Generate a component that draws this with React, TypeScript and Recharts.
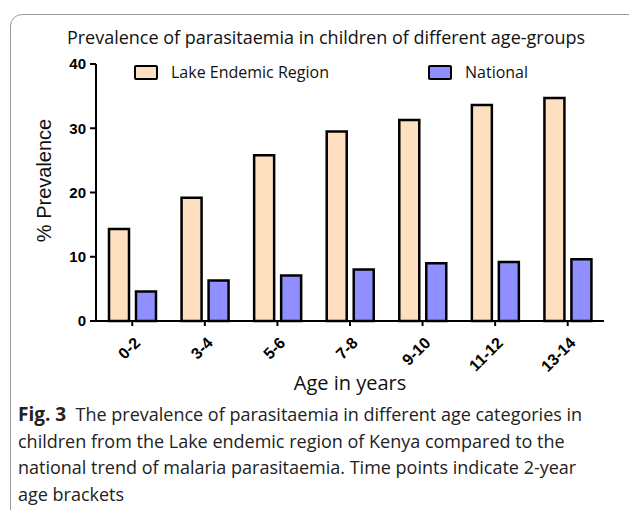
import React from 'react';
import { BarChart, Bar, XAxis, YAxis, Label } from 'recharts';

const AGE_GROUPS = ['0-2', '3-4', '5-6', '7-8', '9-10', '11-12', '13-14'];
const LAKE_ENDEMIC = [14.3, 19.2, 25.8, 29.5, 31.3, 33.6, 34.7];
const NATIONAL = [4.6, 6.3, 7.1, 8.0, 9.0, 9.2, 9.6];
const Y_TICKS = [0, 10, 20, 30, 40];

const SERIES = [
  { key: 'lake', label: 'Lake Endemic Region', fill: '#FEDFC0', legendLeft: 134 },
  { key: 'national', label: 'National', fill: '#8F8FFF', legendLeft: 428 },
];

const data = AGE_GROUPS.map((age, i) => ({
  age,
  lake: LAKE_ENDEMIC[i],
  national: NATIONAL[i],
}));

const CHART_FONT = '"Open Sans", sans-serif';
const ARIAL = '"Liberation Sans", Arial, sans-serif';

function AgeTick({ x, y, payload }: any) {
  const ax = x + 5;
  const ay = y + 12;
  return (
    <text
      x={ax}
      y={ay}
      textAnchor="end"
      transform={`rotate(-45 ${ax} ${ay})`}
      fontFamily={ARIAL}
      fontWeight="bold"
      fontSize={16}
      fill="#000"
      dominantBaseline="central"
    >
      {payload.value}
    </text>
  );
}

export default function App() {
  return (
    <div
      style={{
        position: 'fixed',
        left: 0,
        top: 0,
        width: 629,
        height: 510,
        background: '#fff',
        overflow: 'hidden',
      }}
    >
      <div
        style={{
          position: 'absolute',
          left: 10,
          top: 14,
          width: 700,
          height: 540,
          border: '1px solid #9a9a9a',
          borderRadius: 12,
        }}
      />
      <div
        style={{
          position: 'absolute',
          left: 0,
          top: 25,
          width: 652,
          textAlign: 'center',
          fontFamily: CHART_FONT,
          fontSize: 18,
          color: '#111',
          whiteSpace: 'nowrap',
        }}
      >
        Prevalence of parasitaemia in children of different age-groups
      </div>
      <div style={{ position: 'absolute', left: 0, top: 0 }}>
        <BarChart
          width={629}
          height={395}
          data={data}
          margin={{ top: 64, right: 25, bottom: 0, left: 36 }}
          barSize={20}
          barGap={7}
        >
          <XAxis
            dataKey="age"
            height={74}
            stroke="#000"
            strokeWidth={2}
            tickSize={5}
            tick={<AgeTick />}
            interval={0}
          >
            <Label
              value="Age in years"
              position="insideBottom"
              offset={5}
              style={{ fontFamily: CHART_FONT, fontSize: 20, fill: '#111' }}
            />
          </XAxis>
          <YAxis
            domain={[0, 40]}
            ticks={Y_TICKS}
            width={60}
            stroke="#000"
            strokeWidth={2}
            tickSize={6}
            tickMargin={4}
            tick={{ fontFamily: ARIAL, fontWeight: 'bold', fontSize: 15, fill: '#000' }}
          >
            <Label
              content={({ viewBox }: any) => {
                const cx = viewBox.x + 8;
                const cy = viewBox.y + viewBox.height / 2 - 12;
                return (
                  <text
                    x={cx}
                    y={cy}
                    textAnchor="middle"
                    dominantBaseline="central"
                    transform={`rotate(-90 ${cx} ${cy})`}
                    fontFamily={ARIAL}
                    fontSize={20}
                    fill="#111"
                  >
                    % Prevalence
                  </text>
                );
              }}
            />
          </YAxis>
          {SERIES.map((s) => (
            <Bar
              key={s.key}
              dataKey={s.key}
              name={s.label}
              fill={s.fill}
              stroke="#000"
              strokeWidth={2.5}
              isAnimationActive={false}
            />
          ))}
        </BarChart>
      </div>
      {SERIES.map((s) => (
        <div
          key={s.key}
          style={{
            position: 'absolute',
            left: s.legendLeft,
            top: 60,
            height: 24,
            display: 'flex',
            alignItems: 'center',
            gap: 13,
            fontFamily: CHART_FONT,
          }}
        >
          <span
            style={{
              width: 20,
              height: 11,
              background: s.fill,
              border: '2.5px solid #000',
              borderRadius: 2,
              display: 'inline-block',
            }}
          />
          <span style={{ fontSize: 16, color: '#111' }}>{s.label}</span>
        </div>
      ))}
      <div
        style={{
          position: 'absolute',
          left: 18,
          top: 401,
          width: 620,
          fontFamily: CHART_FONT,
          fontSize: 18,
          lineHeight: '26.7px',
          color: '#222',
          whiteSpace: 'nowrap',
        }}
      >
        <b style={{ fontSize: 19 }}>Fig. 3</b>&nbsp; The prevalence of parasitaemia in different age categories in
        <br />
        children from the Lake endemic region of Kenya compared to the
        <br />
        national trend of malaria parasitaemia. Time points indicate 2-year
        <br />
        age brackets
      </div>
    </div>
  );
}
